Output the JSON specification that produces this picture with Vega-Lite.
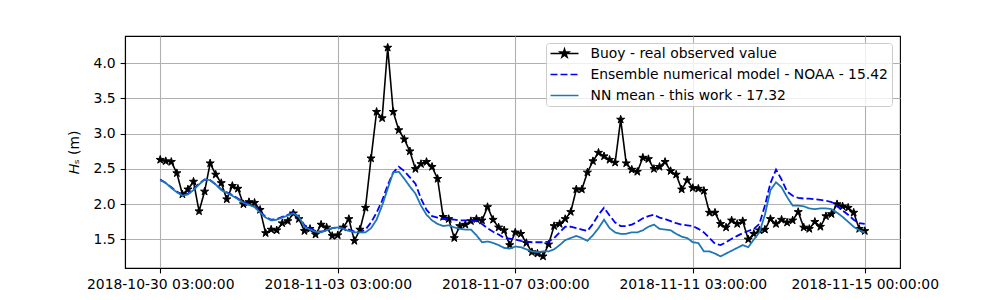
{
 "$schema": "https://vega.github.io/schema/vega-lite/v6.json",
 "width": 775, "height": 232,
 "autosize": {"type": "none"},
 "padding": {"left": 125, "top": 36, "right": 100, "bottom": 32},
 "background": "white",
 "config": {
  "view": {"stroke": "black", "strokeWidth": 1.1},
  "font": "DejaVu Sans",
  "axis": {"labelFont": "DejaVu Sans", "labelFontSize": 13.9, "labelColor": "black", "tickColor": "black", "tickSize": 4.9, "tickWidth": 1.1, "domainColor": "black", "domainWidth": 1.1, "gridColor": "#b0b0b0", "gridWidth": 1.1, "labelPadding": 4.9, "titleFont": "DejaVu Sans", "titleFontSize": 13.9, "titleColor": "black", "titleFontWeight": "normal"},
  "legend": {"labelFont": "DejaVu Sans", "labelFontSize": 13.9, "labelColor": "black", "fillColor": "rgba(255,255,255,0.8)", "strokeColor": "#cccccc", "cornerRadius": 3, "padding": 3.5, "symbolSize": 784, "clipHeight": 14, "symbolStrokeWidth": 1.5, "labelOffset": 11, "rowPadding": 7, "symbolType": "stroke", "labelLimit": 400}
 },
 "data": {"values": [
  {"t":"2018-10-30T03:00:00Z","b":2.63,"e":2.35,"n":2.34},
  {"t":"2018-10-30T06:00:00Z","b":2.61,"e":2.30,"n":2.30},
  {"t":"2018-10-30T09:00:00Z","b":2.60,"e":2.24,"n":2.23},
  {"t":"2018-10-30T12:00:00Z","b":2.44,"e":2.18,"n":2.17},
  {"t":"2018-10-30T15:00:00Z","b":2.14,"e":2.13,"n":2.12},
  {"t":"2018-10-30T18:00:00Z","b":2.21,"e":2.15,"n":2.14},
  {"t":"2018-10-30T21:00:00Z","b":2.32,"e":2.22,"n":2.20},
  {"t":"2018-10-31T00:00:00Z","b":1.90,"e":2.29,"n":2.28},
  {"t":"2018-10-31T03:00:00Z","b":2.18,"e":2.35,"n":2.35},
  {"t":"2018-10-31T06:00:00Z","b":2.58,"e":2.34,"n":2.34},
  {"t":"2018-10-31T09:00:00Z","b":2.42,"e":2.28,"n":2.28},
  {"t":"2018-10-31T12:00:00Z","b":2.30,"e":2.21,"n":2.20},
  {"t":"2018-10-31T15:00:00Z","b":2.07,"e":2.17,"n":2.16},
  {"t":"2018-10-31T18:00:00Z","b":2.26,"e":2.13,"n":2.12},
  {"t":"2018-10-31T21:00:00Z","b":2.22,"e":2.08,"n":2.07},
  {"t":"2018-11-01T00:00:00Z","b":2.00,"e":2.03,"n":2.02},
  {"t":"2018-11-01T03:00:00Z","b":2.03,"e":2.00,"n":1.99},
  {"t":"2018-11-01T06:00:00Z","b":2.02,"e":1.97,"n":1.96},
  {"t":"2018-11-01T09:00:00Z","b":1.92,"e":1.90,"n":1.88},
  {"t":"2018-11-01T12:00:00Z","b":1.59,"e":1.82,"n":1.81},
  {"t":"2018-11-01T15:00:00Z","b":1.64,"e":1.78,"n":1.77},
  {"t":"2018-11-01T18:00:00Z","b":1.63,"e":1.79,"n":1.78},
  {"t":"2018-11-01T21:00:00Z","b":1.73,"e":1.82,"n":1.81},
  {"t":"2018-11-02T00:00:00Z","b":1.76,"e":1.85,"n":1.84},
  {"t":"2018-11-02T03:00:00Z","b":1.87,"e":1.88,"n":1.87},
  {"t":"2018-11-02T06:00:00Z","b":1.79,"e":1.82,"n":1.82},
  {"t":"2018-11-02T09:00:00Z","b":1.62,"e":1.70,"n":1.68},
  {"t":"2018-11-02T12:00:00Z","b":1.65,"e":1.66,"n":1.64},
  {"t":"2018-11-02T15:00:00Z","b":1.57,"e":1.62,"n":1.61},
  {"t":"2018-11-02T18:00:00Z","b":1.71,"e":1.61,"n":1.60},
  {"t":"2018-11-02T21:00:00Z","b":1.67,"e":1.63,"n":1.63},
  {"t":"2018-11-03T00:00:00Z","b":1.55,"e":1.66,"n":1.66},
  {"t":"2018-11-03T03:00:00Z","b":1.56,"e":1.67,"n":1.67},
  {"t":"2018-11-03T06:00:00Z","b":1.67,"e":1.66,"n":1.65},
  {"t":"2018-11-03T09:00:00Z","b":1.79,"e":1.64,"n":1.62},
  {"t":"2018-11-03T12:00:00Z","b":1.48,"e":1.61,"n":1.60},
  {"t":"2018-11-03T15:00:00Z","b":1.64,"e":1.60,"n":1.60},
  {"t":"2018-11-03T18:00:00Z","b":1.95,"e":1.64,"n":1.60},
  {"t":"2018-11-03T21:00:00Z","b":2.65,"e":1.74,"n":1.66},
  {"t":"2018-11-04T00:00:00Z","b":3.31,"e":1.88,"n":1.78},
  {"t":"2018-11-04T03:00:00Z","b":3.22,"e":2.05,"n":1.98},
  {"t":"2018-11-04T06:00:00Z","b":4.22,"e":2.27,"n":2.22},
  {"t":"2018-11-04T09:00:00Z","b":3.31,"e":2.45,"n":2.45},
  {"t":"2018-11-04T12:00:00Z","b":3.05,"e":2.53,"n":2.46},
  {"t":"2018-11-04T15:00:00Z","b":2.92,"e":2.47,"n":2.36},
  {"t":"2018-11-04T18:00:00Z","b":2.75,"e":2.38,"n":2.25},
  {"t":"2018-11-04T21:00:00Z","b":2.50,"e":2.29,"n":2.15},
  {"t":"2018-11-05T00:00:00Z","b":2.57,"e":2.08,"n":1.98},
  {"t":"2018-11-05T03:00:00Z","b":2.60,"e":1.92,"n":1.85},
  {"t":"2018-11-05T06:00:00Z","b":2.53,"e":1.83,"n":1.77},
  {"t":"2018-11-05T09:00:00Z","b":2.36,"e":1.81,"n":1.72},
  {"t":"2018-11-05T12:00:00Z","b":1.82,"e":1.79,"n":1.69},
  {"t":"2018-11-05T15:00:00Z","b":1.79,"e":1.79,"n":1.70},
  {"t":"2018-11-05T18:00:00Z","b":1.52,"e":1.78,"n":1.67},
  {"t":"2018-11-05T21:00:00Z","b":1.69,"e":1.77,"n":1.65},
  {"t":"2018-11-06T00:00:00Z","b":1.71,"e":1.77,"n":1.64},
  {"t":"2018-11-06T03:00:00Z","b":1.76,"e":1.77,"n":1.64},
  {"t":"2018-11-06T06:00:00Z","b":1.79,"e":1.76,"n":1.56},
  {"t":"2018-11-06T09:00:00Z","b":1.77,"e":1.72,"n":1.46},
  {"t":"2018-11-06T12:00:00Z","b":1.96,"e":1.66,"n":1.47},
  {"t":"2018-11-06T15:00:00Z","b":1.78,"e":1.61,"n":1.45},
  {"t":"2018-11-06T18:00:00Z","b":1.67,"e":1.57,"n":1.42},
  {"t":"2018-11-06T21:00:00Z","b":1.63,"e":1.52,"n":1.38},
  {"t":"2018-11-07T00:00:00Z","b":1.42,"e":1.51,"n":1.37},
  {"t":"2018-11-07T03:00:00Z","b":1.60,"e":1.50,"n":1.40},
  {"t":"2018-11-07T06:00:00Z","b":1.58,"e":1.48,"n":1.39},
  {"t":"2018-11-07T09:00:00Z","b":1.45,"e":1.47,"n":1.36},
  {"t":"2018-11-07T12:00:00Z","b":1.32,"e":1.46,"n":1.33},
  {"t":"2018-11-07T15:00:00Z","b":1.30,"e":1.46,"n":1.32},
  {"t":"2018-11-07T18:00:00Z","b":1.26,"e":1.46,"n":1.33},
  {"t":"2018-11-07T21:00:00Z","b":1.43,"e":1.47,"n":1.33},
  {"t":"2018-11-08T00:00:00Z","b":1.69,"e":1.52,"n":1.36},
  {"t":"2018-11-08T03:00:00Z","b":1.72,"e":1.60,"n":1.42},
  {"t":"2018-11-08T06:00:00Z","b":1.79,"e":1.68,"n":1.49},
  {"t":"2018-11-08T09:00:00Z","b":1.89,"e":1.68,"n":1.52},
  {"t":"2018-11-08T12:00:00Z","b":2.21,"e":1.66,"n":1.55},
  {"t":"2018-11-08T15:00:00Z","b":2.21,"e":1.64,"n":1.52},
  {"t":"2018-11-08T18:00:00Z","b":2.45,"e":1.62,"n":1.48},
  {"t":"2018-11-08T21:00:00Z","b":2.61,"e":1.72,"n":1.56},
  {"t":"2018-11-09T00:00:00Z","b":2.73,"e":1.85,"n":1.66},
  {"t":"2018-11-09T03:00:00Z","b":2.68,"e":1.95,"n":1.78},
  {"t":"2018-11-09T06:00:00Z","b":2.63,"e":1.84,"n":1.66},
  {"t":"2018-11-09T09:00:00Z","b":2.59,"e":1.74,"n":1.60},
  {"t":"2018-11-09T12:00:00Z","b":3.20,"e":1.69,"n":1.58},
  {"t":"2018-11-09T15:00:00Z","b":2.58,"e":1.69,"n":1.58},
  {"t":"2018-11-09T18:00:00Z","b":2.49,"e":1.71,"n":1.60},
  {"t":"2018-11-09T21:00:00Z","b":2.46,"e":1.75,"n":1.60},
  {"t":"2018-11-10T00:00:00Z","b":2.66,"e":1.80,"n":1.63},
  {"t":"2018-11-10T03:00:00Z","b":2.64,"e":1.83,"n":1.68},
  {"t":"2018-11-10T06:00:00Z","b":2.50,"e":1.85,"n":1.71},
  {"t":"2018-11-10T09:00:00Z","b":2.53,"e":1.81,"n":1.65},
  {"t":"2018-11-10T12:00:00Z","b":2.60,"e":1.79,"n":1.64},
  {"t":"2018-11-10T15:00:00Z","b":2.47,"e":1.76,"n":1.63},
  {"t":"2018-11-10T18:00:00Z","b":2.42,"e":1.73,"n":1.58},
  {"t":"2018-11-10T21:00:00Z","b":2.21,"e":1.71,"n":1.54},
  {"t":"2018-11-11T00:00:00Z","b":2.34,"e":1.70,"n":1.52},
  {"t":"2018-11-11T03:00:00Z","b":2.23,"e":1.69,"n":1.46},
  {"t":"2018-11-11T06:00:00Z","b":2.22,"e":1.65,"n":1.45},
  {"t":"2018-11-11T09:00:00Z","b":2.19,"e":1.60,"n":1.33},
  {"t":"2018-11-11T12:00:00Z","b":1.88,"e":1.52,"n":1.33},
  {"t":"2018-11-11T15:00:00Z","b":1.88,"e":1.44,"n":1.30},
  {"t":"2018-11-11T18:00:00Z","b":1.72,"e":1.42,"n":1.26},
  {"t":"2018-11-11T21:00:00Z","b":1.67,"e":1.46,"n":1.30},
  {"t":"2018-11-12T00:00:00Z","b":1.77,"e":1.51,"n":1.34},
  {"t":"2018-11-12T03:00:00Z","b":1.72,"e":1.55,"n":1.38},
  {"t":"2018-11-12T06:00:00Z","b":1.76,"e":1.59,"n":1.42},
  {"t":"2018-11-12T09:00:00Z","b":1.50,"e":1.62,"n":1.39},
  {"t":"2018-11-12T12:00:00Z","b":1.58,"e":1.65,"n":1.50},
  {"t":"2018-11-12T15:00:00Z","b":1.63,"e":1.72,"n":1.60},
  {"t":"2018-11-12T18:00:00Z","b":1.64,"e":1.98,"n":1.85},
  {"t":"2018-11-12T21:00:00Z","b":1.79,"e":2.30,"n":2.20},
  {"t":"2018-11-13T00:00:00Z","b":1.72,"e":2.49,"n":2.31},
  {"t":"2018-11-13T03:00:00Z","b":1.78,"e":2.35,"n":2.24},
  {"t":"2018-11-13T06:00:00Z","b":1.74,"e":2.18,"n":2.10},
  {"t":"2018-11-13T09:00:00Z","b":1.77,"e":2.12,"n":1.98},
  {"t":"2018-11-13T12:00:00Z","b":1.89,"e":2.09,"n":1.98},
  {"t":"2018-11-13T15:00:00Z","b":1.67,"e":2.08,"n":1.97},
  {"t":"2018-11-13T18:00:00Z","b":1.65,"e":2.08,"n":1.94},
  {"t":"2018-11-13T21:00:00Z","b":1.75,"e":2.07,"n":1.93},
  {"t":"2018-11-14T00:00:00Z","b":1.68,"e":2.06,"n":1.94},
  {"t":"2018-11-14T03:00:00Z","b":1.83,"e":2.05,"n":1.94},
  {"t":"2018-11-14T06:00:00Z","b":1.86,"e":2.03,"n":1.93},
  {"t":"2018-11-14T09:00:00Z","b":2.00,"e":1.97,"n":1.88},
  {"t":"2018-11-14T12:00:00Z","b":1.97,"e":1.91,"n":1.82},
  {"t":"2018-11-14T15:00:00Z","b":1.95,"e":1.85,"n":1.75},
  {"t":"2018-11-14T18:00:00Z","b":1.88,"e":1.78,"n":1.68},
  {"t":"2018-11-14T21:00:00Z","b":1.65,"e":1.73,"n":1.63},
  {"t":"2018-11-15T00:00:00Z","b":1.62,"e":1.72,"n":1.60}
 ]},
 "transform": [{"fold": ["b", "e", "n"], "as": ["s", "v"]}],
 "encoding": {
  "x": {"field": "t", "type": "temporal",
        "scale": {"type": "utc", "domain": [{"year": 2018, "month": 10, "date": 29, "hours": 7, "minutes": 57, "utc": true}, {"year": 2018, "month": 11, "date": 15, "hours": 19, "minutes": 3, "utc": true}]},
        "axis": {"title": null, "labelAngle": 0, "labelFlush": false, "labelOverlap": false, "labelExpr": "utcFormat(datum.value, '%Y-%m-%d %H:%M:%S')",
                 "values": [{"year": 2018, "month": 10, "date": 30, "hours": 3, "utc": true}, {"year": 2018, "month": 11, "date": 3, "hours": 3, "utc": true}, {"year": 2018, "month": 11, "date": 7, "hours": 3, "utc": true}, {"year": 2018, "month": 11, "date": 11, "hours": 3, "utc": true}, {"year": 2018, "month": 11, "date": 15, "hours": 0, "utc": true}]}},
  "y": {"field": "v", "type": "quantitative", "scale": {"domain": [1.095, 4.385], "nice": false, "zero": false},
        "axis": {"title": "𝐻ₛ (m)", "values": [1.5, 2, 2.5, 3, 3.5, 4], "format": ".1f", "titlePadding": 12}}
 },
 "layer": [
  {"transform": [{"filter": "datum.s === 'b'"}],
   "mark": {"type": "line", "strokeWidth": 1.6},
   "encoding": {
    "color": {"field": "s", "type": "nominal", "scale": {"domain": ["b", "e", "n"], "range": ["black", "blue", "#1f77b4"]},
              "legend": {"orient": "none", "legendX": 421, "legendY": 7, "title": null,
                         "labelExpr": "datum.value === 'b' ? 'Buoy - real observed value' : datum.value === 'e' ? 'Ensemble numerical model - NOAA - 15.42' : 'NN mean - this work - 17.32'",
                         "encode": {"symbols": {"update": {"shape": {"signal": "datum.value === 'b' ? 'M-1,0L1,0M0,-0.32L0.0718,-0.0989L0.304,-0.0989L0.1162,0.0378L0.188,0.259L0,0.1222L-0.188,0.259L-0.1162,0.0378L-0.304,-0.0989L-0.0718,-0.0989Z' : 'stroke'"}, "fill": {"signal": "datum.value === 'b' ? 'black' : 'transparent'"}}}}}},
    "strokeDash": {"field": "s", "type": "nominal", "scale": {"domain": ["b", "e", "n"], "range": [[1, 0], [7, 3], [1, 0]]},
              "legend": {"orient": "none", "legendX": 421, "legendY": 7, "title": null,
                         "labelExpr": "datum.value === 'b' ? 'Buoy - real observed value' : datum.value === 'e' ? 'Ensemble numerical model - NOAA - 15.42' : 'NN mean - this work - 17.32'",
                         "encode": {"symbols": {"update": {"shape": {"signal": "datum.value === 'b' ? 'M-1,0L1,0M0,-0.32L0.0718,-0.0989L0.304,-0.0989L0.1162,0.0378L0.188,0.259L0,0.1222L-0.188,0.259L-0.1162,0.0378L-0.304,-0.0989L-0.0718,-0.0989Z' : 'stroke'"}, "fill": {"signal": "datum.value === 'b' ? 'black' : 'transparent'"}}}}}}
   }},
  {"transform": [{"filter": "datum.s === 'b'"}],
   "mark": {"type": "point", "shape": "M0,-1L0.2245,-0.309L0.951,-0.309L0.363,0.118L0.588,0.809L0,0.382L-0.588,0.809L-0.363,0.118L-0.951,-0.309L-0.2245,-0.309Z", "filled": true, "size": 72, "fill": "black", "stroke": "black", "strokeWidth": 1, "opacity": 1},
   "encoding": {}},
  {"transform": [{"filter": "datum.s !== 'b'"}],
   "mark": {"type": "line", "strokeWidth": 1.8},
   "encoding": {
    "color": {"field": "s", "type": "nominal", "scale": {"domain": ["b", "e", "n"], "range": ["black", "blue", "#1f77b4"]},
              "legend": {"orient": "none", "legendX": 421, "legendY": 7, "title": null,
                         "labelExpr": "datum.value === 'b' ? 'Buoy - real observed value' : datum.value === 'e' ? 'Ensemble numerical model - NOAA - 15.42' : 'NN mean - this work - 17.32'",
                         "encode": {"symbols": {"update": {"shape": {"signal": "datum.value === 'b' ? 'M-1,0L1,0M0,-0.32L0.0718,-0.0989L0.304,-0.0989L0.1162,0.0378L0.188,0.259L0,0.1222L-0.188,0.259L-0.1162,0.0378L-0.304,-0.0989L-0.0718,-0.0989Z' : 'stroke'"}, "fill": {"signal": "datum.value === 'b' ? 'black' : 'transparent'"}}}}}},
    "strokeDash": {"field": "s", "type": "nominal", "scale": {"domain": ["b", "e", "n"], "range": [[1, 0], [7, 3], [1, 0]]},
              "legend": {"orient": "none", "legendX": 421, "legendY": 7, "title": null,
                         "labelExpr": "datum.value === 'b' ? 'Buoy - real observed value' : datum.value === 'e' ? 'Ensemble numerical model - NOAA - 15.42' : 'NN mean - this work - 17.32'",
                         "encode": {"symbols": {"update": {"shape": {"signal": "datum.value === 'b' ? 'M-1,0L1,0M0,-0.32L0.0718,-0.0989L0.304,-0.0989L0.1162,0.0378L0.188,0.259L0,0.1222L-0.188,0.259L-0.1162,0.0378L-0.304,-0.0989L-0.0718,-0.0989Z' : 'stroke'"}, "fill": {"signal": "datum.value === 'b' ? 'black' : 'transparent'"}}}}}}
   }}
 ]
}
